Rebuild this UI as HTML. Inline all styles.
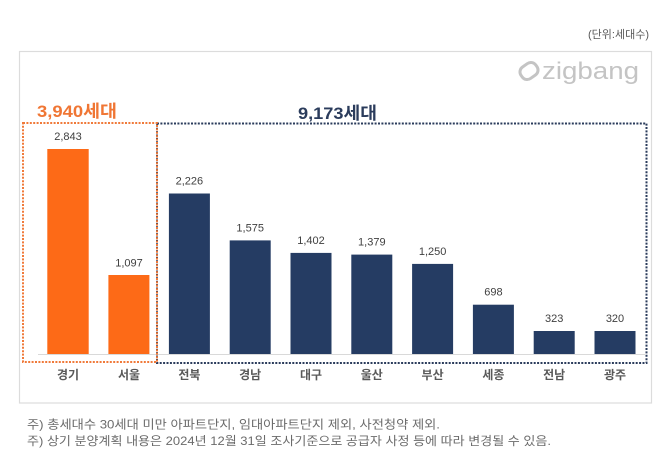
<!DOCTYPE html>
<html><head><meta charset="utf-8"><style>
html,body{margin:0;padding:0;background:#fff;}
svg{display:block;}
text{font-family:"Liberation Sans","Noto Sans CJK KR",sans-serif;}
</style></head><body>
<svg width="670" height="466" viewBox="0 0 670 466" xmlns="http://www.w3.org/2000/svg">
<rect width="670" height="466" fill="#fff"/>
<text x="649" y="38" text-anchor="end" font-size="11" fill="#595959">(단위:세대수)</text>
<rect x="19.5" y="51.5" width="632" height="351.5" fill="#fff" stroke="#dcdcdc" stroke-width="1.2"/>
<!-- logo -->
<g transform="translate(529,71) rotate(-35)">
<rect x="-9" y="-7" width="18" height="14" rx="6" fill="none" stroke="#c4c4c4" stroke-width="3"/>
</g>
<text x="542" y="79" font-size="24" fill="#c4c4c4" textLength="97" lengthAdjust="spacingAndGlyphs">zigbang</text>
<!-- titles -->
<text x="37" y="117" font-size="17" font-weight="bold" fill="#f07634" textLength="80" lengthAdjust="spacingAndGlyphs">3,940세대</text>
<text x="298" y="119" font-size="17" font-weight="bold" fill="#2b3c5c" textLength="79" lengthAdjust="spacingAndGlyphs">9,173세대</text>
<!-- axis -->
<line x1="38" y1="354.5" x2="645" y2="354.5" stroke="#d9d9d9" stroke-width="1"/>
<!-- bars -->
<g fill="#fd6a17">
<rect x="47.3" y="149" width="41.4" height="205"/>
<rect x="108.4" y="275" width="41" height="79"/>
</g>
<g fill="#253c63">
<rect x="168.9" y="193.5" width="41" height="160.5"/>
<rect x="229.7" y="240.4" width="41" height="113.6"/>
<rect x="290.5" y="252.9" width="41" height="101.1"/>
<rect x="351.3" y="254.6" width="41" height="99.4"/>
<rect x="412.1" y="263.9" width="41" height="90.1"/>
<rect x="472.9" y="304.7" width="41" height="49.3"/>
<rect x="533.7" y="331" width="41" height="23"/>
<rect x="594.5" y="331" width="41" height="23"/>
</g>
<!-- value labels -->
<g font-size="11" fill="#404040" text-anchor="middle">
<text x="68" y="140">2,843</text>
<text x="129" y="266.5">1,097</text>
<text x="189.4" y="184.5">2,226</text>
<text x="250.2" y="231.5">1,575</text>
<text x="311" y="244">1,402</text>
<text x="371.8" y="245.5">1,379</text>
<text x="432.6" y="255">1,250</text>
<text x="493.4" y="295.5">698</text>
<text x="554.2" y="322">323</text>
<text x="615" y="322">320</text>
</g>
<!-- dotted boxes -->
<rect x="157" y="123.5" width="489.5" height="239.5" fill="none" stroke="#2b3c5c" stroke-width="2" stroke-dasharray="2 1.4"/>
<rect x="23" y="123" width="134" height="239" fill="none" stroke="#f07a3a" stroke-width="2" stroke-dasharray="2 1.4"/>
<!-- x labels -->
<g font-size="12" font-weight="bold" fill="#595959" text-anchor="middle">
<text x="68" y="379">경기</text>
<text x="129" y="379">서울</text>
<text x="189.4" y="379">전북</text>
<text x="250.2" y="379">경남</text>
<text x="311" y="379">대구</text>
<text x="371.8" y="379">울산</text>
<text x="432.6" y="379">부산</text>
<text x="493.4" y="379">세종</text>
<text x="554.2" y="379">전남</text>
<text x="615" y="379">광주</text>
</g>
<!-- footnotes -->
<text x="27" y="428.5" font-size="12" fill="#6b6b6b" textLength="413" lengthAdjust="spacingAndGlyphs">주) 총세대수 30세대 미만 아파트단지, 임대아파트단지 제외, 사전청약 제외.</text>
<text x="27" y="445" font-size="12" fill="#6b6b6b" textLength="524" lengthAdjust="spacingAndGlyphs">주) 상기 분양계획 내용은 2024년 12월 31일  조사기준으로 공급자 사정 등에 따라 변경될 수 있음.</text>
</svg>
</body></html>
